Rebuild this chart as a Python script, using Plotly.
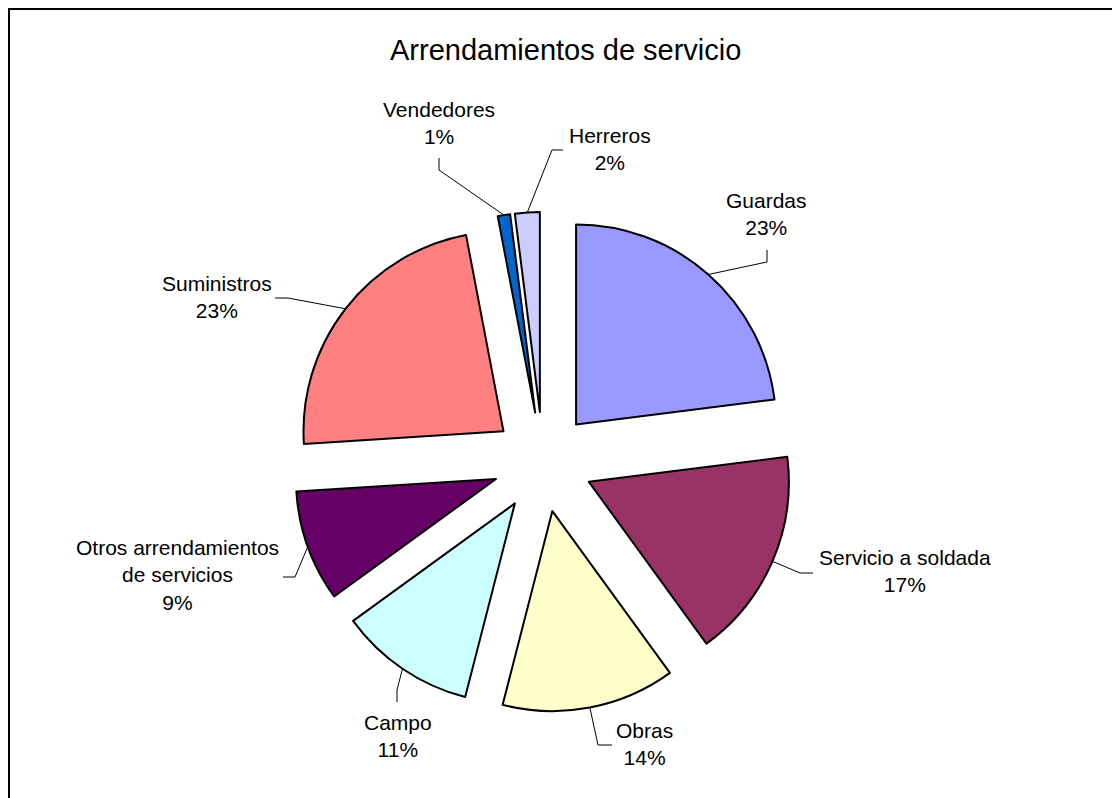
import math
import plotly.graph_objects as go

# ---- data ----
categories = ["Guardas", "Servicio a soldada", "Obras", "Campo",
              "Otros arrendamientos<br>de servicios", "Suministros",
              "Vendedores", "Herreros"]
values = [23, 17, 14, 11, 9, 23, 1, 2]
colors = ["#9999FF", "#993366", "#FFFFCC", "#CCFFFF",
          "#660066", "#FF8080", "#0066CC", "#CCCCFF"]
title_text = "Arrendamientos de servicio"

# ---- layout (window pixels) ----
OFF = 8                      # page body margin
WIN_W, WIN_H = 1120, 798
W, H = WIN_W - OFF, WIN_H - OFF
CX, CY = 543, 462            # pie centre
R = 200                      # pie radius
PULL = 0.25                  # explosion (fraction of radius)
FONT = "Liberation Sans, Arial, sans-serif"

# label centres and leader-line (start, elbow) points, window pixels
label_pos = [(766, 214), (905, 571), (644, 744), (398, 736),
             (177, 575), (217, 297), (439, 123), (610, 149)]
leader_pts = [((767, 250), (767, 262)), ((813, 573), (800, 573)),
              ((612, 745), (598, 745)), ((397, 702), (397, 690)),
              ((283, 577), (295, 577)), ((275, 298), (288, 298)),
              ((439, 158), (439, 170)), ((563, 150), (552, 150))]


def px(x):
    return (x - OFF) / W


def py(y):
    return 1 - (y - OFF) / H


half = R * (1 + PULL)
fig = go.Figure(go.Pie(
    labels=[c.replace("<br>", " ") for c in categories],
    values=values,
    sort=False,
    direction="clockwise",
    rotation=0,
    pull=[PULL] * len(values),
    textinfo="none",
    marker=dict(colors=colors, line=dict(color="black", width=2)),
    domain=dict(x=[px(CX - half), px(CX + half)],
                y=[py(CY + half), py(CY - half)]),
    showlegend=False,
))

total = sum(values)
shapes = []
annotations = []
cum = 0.0
for i, v in enumerate(values):
    mid = (cum + v / 2) / total * 2 * math.pi
    cum += v
    ax = CX + half * math.sin(mid)
    ay = CY - half * math.cos(mid)
    (sx, sy), (ex, ey) = leader_pts[i]
    shapes.append(dict(
        type="path", xref="paper", yref="paper",
        path=f"M {px(sx)},{py(sy)} L {px(ex)},{py(ey)} L {px(ax)},{py(ay)}",
        line=dict(color="black", width=1)))
    lx, ly = label_pos[i]
    pct = round(v / total * 100)
    annotations.append(dict(
        x=px(lx), y=py(ly), xref="paper", yref="paper",
        text=f"{categories[i]}<br>{pct}%", showarrow=False,
        xanchor="center", yanchor="middle", align="center",
        font=dict(family=FONT, size=21, color="black")))

annotations.append(dict(
    x=px(565), y=py(50), xref="paper", yref="paper",
    text=title_text, showarrow=False, xanchor="center", yanchor="middle",
    font=dict(family=FONT, size=29, color="black")))

# chart-area frame
shapes.append(dict(type="rect", xref="paper", yref="paper",
                   x0=px(9), y0=py(9), x1=px(WIN_W + 20), y1=py(WIN_H + 20),
                   line=dict(color="black", width=2)))

fig.update_layout(
    width=W, height=H,
    margin=dict(l=0, r=0, t=0, b=0),
    paper_bgcolor="white", plot_bgcolor="white",
    shapes=shapes, annotations=annotations,
    font=dict(family=FONT),
)

fig.write_html("out.html")
